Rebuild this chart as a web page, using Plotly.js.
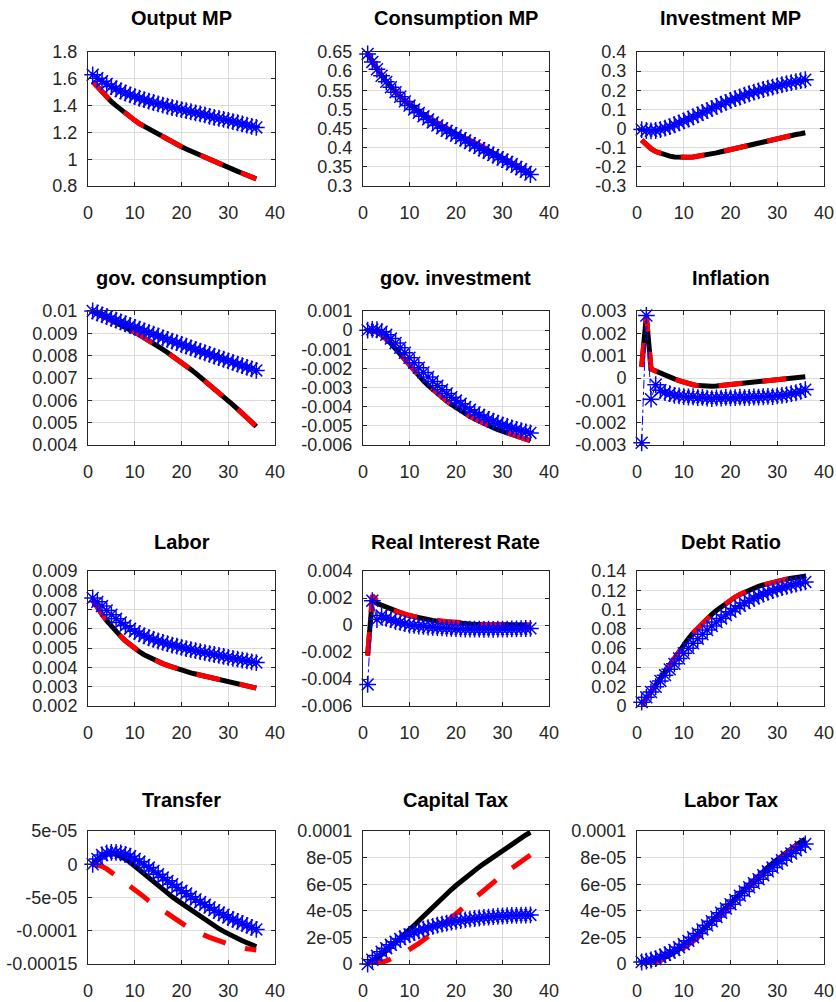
<!DOCTYPE html>
<html><head><meta charset="utf-8">
<script src="https://cdn.plot.ly/plotly-3.0.1.min.js"></script>
<style>html,body{margin:0;padding:0;background:#fff}#chart{width:836px;height:1002px}</style>
</head><body><div id="chart"></div>
<script>
const periods = [1,2,3,4,5,6,7,8,9,10,11,12,13,14,15,16,17,18,19,20,21,22,23,24,25,26,27,28,29,30,31,32,33,34,35,36];
const xTicks = [0,10,20,30,40];
const xLabels = ['0','10','20','30','40'];

const titles = ['Output MP','Consumption MP','Investment MP','gov. consumption','gov. investment','Inflation','Labor','Real Interest Rate','Debt Ratio','Transfer','Capital Tax','Labor Tax'];

// Output MP
const outputBlack = [1.58,1.54,1.50,1.465,1.43,1.40,1.37,1.34,1.315,1.29,1.265,1.245,1.225,1.205,1.185,1.165,1.145,1.127,1.11,1.093,1.076,1.06,1.044,1.028,1.012,0.997,0.982,0.967,0.952,0.937,0.923,0.909,0.895,0.881,0.867,0.853];
const outputRed   = [1.58,1.54,1.50,1.465,1.43,1.40,1.37,1.34,1.315,1.29,1.265,1.245,1.225,1.205,1.185,1.165,1.145,1.127,1.11,1.093,1.076,1.06,1.044,1.028,1.012,0.997,0.982,0.967,0.952,0.937,0.923,0.909,0.895,0.881,0.867,0.853];
const outputBlue  = [1.63,1.605,1.582,1.561,1.542,1.525,1.509,1.494,1.48,1.467,1.455,1.444,1.433,1.423,1.413,1.404,1.395,1.386,1.378,1.37,1.362,1.354,1.346,1.338,1.331,1.32,1.312,1.304,1.297,1.29,1.281,1.272,1.263,1.254,1.245,1.237];
const outputTicks = [0.8,1,1.2,1.4,1.6,1.8];
const outputLabels = ['0.8','1','1.2','1.4','1.6','1.8'];

// Consumption MP
const consBlack = [0.645,0.625,0.606,0.589,0.573,0.559,0.546,0.534,0.523,0.512,0.503,0.494,0.486,0.478,0.470,0.463,0.456,0.449,0.443,0.437,0.430,0.424,0.417,0.411,0.404,0.398,0.392,0.386,0.380,0.373,0.367,0.360,0.353,0.346,0.339,0.331];
const consRed   = [0.645,0.625,0.606,0.589,0.573,0.559,0.546,0.534,0.523,0.513,0.504,0.495,0.487,0.479,0.471,0.464,0.457,0.451,0.445,0.439,0.432,0.426,0.419,0.413,0.406,0.400,0.394,0.388,0.381,0.374,0.368,0.361,0.354,0.347,0.340,0.332];
const consBlue  = [0.645,0.624,0.605,0.588,0.572,0.558,0.545,0.533,0.521,0.510,0.500,0.491,0.482,0.474,0.466,0.458,0.451,0.444,0.438,0.432,0.425,0.419,0.412,0.406,0.399,0.393,0.387,0.381,0.375,0.369,0.363,0.357,0.350,0.344,0.337,0.330];
const consTicks = [0.3,0.35,0.4,0.45,0.5,0.55,0.6,0.65];
const consLabels = ['0.3','0.35','0.4','0.45','0.5','0.55','0.6','0.65'];

// Investment MP
const invBlack = [-0.06,-0.085,-0.105,-0.12,-0.13,-0.138,-0.144,-0.148,-0.15,-0.151,-0.15,-0.148,-0.145,-0.141,-0.137,-0.132,-0.127,-0.121,-0.115,-0.109,-0.103,-0.097,-0.091,-0.085,-0.079,-0.073,-0.067,-0.062,-0.056,-0.051,-0.046,-0.041,-0.036,-0.031,-0.027,-0.022];
const invRed   = [-0.06,-0.085,-0.105,-0.12,-0.13,-0.138,-0.144,-0.148,-0.15,-0.151,-0.15,-0.148,-0.145,-0.141,-0.137,-0.132,-0.127,-0.121,-0.115,-0.109,-0.103,-0.097,-0.091,-0.085,-0.079,-0.073,-0.067,-0.062,-0.056,-0.051,-0.046,-0.041,-0.036,-0.031,-0.027,-0.022];
const invBlue  = [-0.005,-0.01,-0.012,-0.01,-0.005,0.002,0.01,0.02,0.03,0.04,0.05,0.061,0.072,0.083,0.094,0.105,0.116,0.127,0.137,0.147,0.156,0.165,0.174,0.182,0.19,0.197,0.204,0.211,0.217,0.223,0.229,0.235,0.24,0.245,0.25,0.255];
const invTicks = [-0.3,-0.2,-0.1,0,0.1,0.2,0.3,0.4];
const invLabels = ['-0.3','-0.2','-0.1','0','0.1','0.2','0.3','0.4'];

// gov. consumption
const govcBlack = [0.0100,0.00990,0.00980,0.00970,0.00960,0.00950,0.00939,0.00928,0.00917,0.00905,0.00893,0.00881,0.00868,0.00855,0.00842,0.00828,0.00814,0.00800,0.00785,0.00770,0.00754,0.00738,0.00722,0.00705,0.00688,0.00671,0.00653,0.00635,0.00617,0.00599,0.00580,0.00561,0.00542,0.00523,0.00503,0.00483];
const govcRed   = [0.0100,0.00990,0.00980,0.00970,0.00960,0.00950,0.00939,0.00928,0.00917,0.00905,0.00893,0.00881,0.00868,0.00855,0.00842,0.00828,0.00814,0.00800,0.00785,0.00770,0.00754,0.00738,0.00722,0.00705,0.00688,0.00671,0.00653,0.00635,0.00617,0.00599,0.00580,0.00561,0.00542,0.00523,0.00503,0.00483];
const govcBlue  = [0.01000,0.00991,0.00983,0.00975,0.00967,0.00959,0.00951,0.00943,0.00935,0.00927,0.00919,0.00911,0.00903,0.00896,0.00888,0.00880,0.00873,0.00865,0.00858,0.00850,0.00843,0.00835,0.00828,0.00820,0.00813,0.00806,0.00798,0.00791,0.00784,0.00777,0.00770,0.00762,0.00755,0.00748,0.00741,0.00734];
const govcTicks = [0.004,0.005,0.006,0.007,0.008,0.009,0.01];
const govcLabels = ['0.004','0.005','0.006','0.007','0.008','0.009','0.01'];

// gov. investment
const goviBlack = [0.0000,-0.00002,-0.00010,-0.00025,-0.00045,-0.00070,-0.00098,-0.00127,-0.00157,-0.00187,-0.00214,-0.00240,-0.00265,-0.00288,-0.00310,-0.00331,-0.00351,-0.00370,-0.00388,-0.00405,-0.00421,-0.00436,-0.00450,-0.00463,-0.00476,-0.00488,-0.00499,-0.00510,-0.00520,-0.00529,-0.00538,-0.00547,-0.00555,-0.00563,-0.00570,-0.00577];
const goviRed   = [0.0000,-0.00002,-0.00010,-0.00025,-0.00045,-0.00070,-0.00098,-0.00127,-0.00157,-0.00187,-0.00214,-0.00240,-0.00265,-0.00288,-0.00310,-0.00331,-0.00351,-0.00370,-0.00388,-0.00405,-0.00421,-0.00436,-0.00450,-0.00463,-0.00476,-0.00488,-0.00499,-0.00510,-0.00520,-0.00529,-0.00538,-0.00547,-0.00555,-0.00563,-0.00570,-0.00577];
const goviBlue  = [0.00000,0.00004,0.00002,-0.00008,-0.00024,-0.00044,-0.00067,-0.00092,-0.00118,-0.00144,-0.00170,-0.00196,-0.00221,-0.00245,-0.00268,-0.00290,-0.00311,-0.00331,-0.00350,-0.00368,-0.00385,-0.00401,-0.00416,-0.00430,-0.00443,-0.00455,-0.00466,-0.00476,-0.00486,-0.00495,-0.00503,-0.00511,-0.00518,-0.00525,-0.00531,-0.00537];
const goviTicks = [-0.006,-0.005,-0.004,-0.003,-0.002,-0.001,0,0.001];
const goviLabels = ['-0.006','-0.005','-0.004','-0.003','-0.002','-0.001','0','0.001'];

// Inflation
const inflBlack = [0.0005,0.0028,0.0004,0.0003,0.0002,0.00012,0.00004,-0.00004,-0.00012,-0.00019,-0.00025,-0.0003,-0.00034,-0.00036,-0.00037,-0.00037,-0.00036,-0.00034,-0.00032,-0.0003,-0.00028,-0.00026,-0.00024,-0.00022,-0.0002,-0.00018,-0.00016,-0.00014,-0.00012,-0.0001,-0.00008,-0.00006,-0.00003,0.0,0.00003,0.00006];
const inflRed   = [0.0005,0.0028,0.0004,0.0003,0.0002,0.00012,0.00004,-0.00004,-0.00012,-0.00019,-0.00025,-0.0003,-0.00034,-0.00036,-0.00037,-0.00037,-0.00036,-0.00034,-0.00032,-0.0003,-0.00028,-0.00026,-0.00024,-0.00022,-0.0002,-0.00018,-0.00016,-0.00014,-0.00012,-0.0001,-0.00008,-0.00006,-0.00003,0.0,0.00003,0.00006];
const inflBlue  = [-0.0029,0.0028,-0.00095,-0.0003,-0.00055,-0.00065,-0.0007,-0.00078,-0.0008,-0.00083,-0.00085,-0.00084,-0.00088,-0.00087,-0.0009,-0.00092,-0.00089,-0.0009,-0.00087,-0.00089,-0.00088,-0.00086,-0.00088,-0.00087,-0.00085,-0.00086,-0.00084,-0.00082,-0.00083,-0.0008,-0.00078,-0.00075,-0.0007,-0.00066,-0.0006,-0.00052];
const inflTicks = [-0.003,-0.002,-0.001,0,0.001,0.002,0.003];
const inflLabels = ['-0.003','-0.002','-0.001','0','0.001','0.002','0.003'];

// Labor
const labBlack = [0.0075,0.0071,0.00675,0.00643,0.00613,0.00586,0.00561,0.00538,0.00517,0.00498,0.00481,0.00466,0.00453,0.00441,0.0043,0.0042,0.00411,0.00402,0.00394,0.00386,0.00379,0.00372,0.00366,0.0036,0.00354,0.00348,0.00342,0.00337,0.00331,0.00326,0.00321,0.00315,0.0031,0.00304,0.00299,0.00293];
const labRed   = [0.0075,0.0071,0.00675,0.00643,0.00613,0.00586,0.00561,0.00538,0.00517,0.00498,0.00481,0.00466,0.00453,0.00441,0.0043,0.0042,0.00411,0.00402,0.00394,0.00386,0.00379,0.00372,0.00366,0.0036,0.00354,0.00348,0.00342,0.00337,0.00331,0.00326,0.00321,0.00315,0.0031,0.00304,0.00299,0.00293];
const labBlue  = [0.0076,0.0074,0.00718,0.00695,0.00673,0.00652,0.00633,0.00616,0.00601,0.00587,0.00575,0.00564,0.00554,0.00545,0.00537,0.0053,0.00523,0.00516,0.0051,0.00504,0.00498,0.00492,0.00487,0.00482,0.00477,0.00472,0.00467,0.00462,0.00457,0.00452,0.00447,0.00443,0.00438,0.00434,0.00429,0.00425];
const labTicks = [0.002,0.003,0.004,0.005,0.006,0.007,0.008,0.009];
const labLabels = ['0.002','0.003','0.004','0.005','0.006','0.007','0.008','0.009'];

// Real Interest Rate
const rirBlack = [-0.0022,0.0019,0.0016,0.00145,0.0013,0.00115,0.00102,0.0009,0.00079,0.00069,0.0006,0.00052,0.00045,0.00039,0.00033,0.00028,0.00024,0.0002,0.00017,0.00014,0.00012,0.0001,0.00008,0.00006,0.00005,0.00004,0.00003,0.00002,0.00002,0.00001,0.00001,0.00001,0.0,0.0,0.0,0.0];
const rirRed   = [-0.0023,0.0022,0.0018,0.0015,0.00128,0.00112,0.001,0.0009,0.0008,0.00072,0.00064,0.00057,0.0005,0.00044,0.00039,0.00034,0.0003,0.00026,0.00022,0.00019,0.00016,0.00013,0.00011,0.00009,0.00007,0.00005,0.00004,0.00003,0.00002,0.00001,0.0,0.0,-0.00001,-0.00001,-0.00002,-0.00002];
const rirBlue  = [-0.0044,0.0018,0.0004,0.0007,0.0005,0.0004,0.00025,0.0002,0.0001,0.0,-0.00003,-0.00008,-0.0001,-0.00015,-0.00017,-0.0002,-0.00022,-0.00024,-0.00025,-0.00027,-0.00028,-0.0003,-0.0003,-0.00031,-0.00031,-0.00032,-0.00031,-0.00032,-0.00031,-0.0003,-0.0003,-0.00029,-0.00028,-0.00027,-0.00026,-0.00025];
const rirTicks = [-0.006,-0.004,-0.002,0,0.002,0.004];
const rirLabels = ['-0.006','-0.004','-0.002','0','0.002','0.004'];

// Debt Ratio
const debtBlack = [0.001,0.008,0.015,0.0225,0.03,0.037,0.044,0.051,0.0575,0.064,0.07,0.0757,0.081,0.086,0.0907,0.095,0.099,0.1027,0.1063,0.110,0.113,0.1157,0.118,0.1202,0.1222,0.124,0.1256,0.127,0.1283,0.1295,0.1306,0.1316,0.1325,0.1333,0.134,0.1346];
const debtRed   = [0.001,0.008,0.015,0.0225,0.03,0.037,0.044,0.051,0.0575,0.064,0.07,0.0757,0.081,0.086,0.0907,0.095,0.099,0.1027,0.1063,0.110,0.113,0.1157,0.118,0.1202,0.1222,0.124,0.1256,0.127,0.1283,0.1295,0.1306,0.1316,0.1325,0.1333,0.134,0.1346];
const debtBlue  = [0.004,0.009,0.0145,0.02,0.026,0.032,0.038,0.0437,0.0493,0.0547,0.06,0.065,0.0698,0.0744,0.0788,0.083,0.087,0.0908,0.0944,0.0978,0.101,0.104,0.1068,0.1094,0.1118,0.114,0.116,0.1179,0.1196,0.1212,0.1227,0.124,0.1253,0.1265,0.1276,0.1287];
const debtTicks = [0,0.02,0.04,0.06,0.08,0.1,0.12,0.14];
const debtLabels = ['0','0.02','0.04','0.06','0.08','0.1','0.12','0.14'];

// Transfer
const trBlack = [0.0,7e-06,1.2e-05,1.5e-05,1.6e-05,1.5e-05,1.2e-05,8e-06,3e-06,-3e-06,-9e-06,-1.5e-05,-2.1e-05,-2.7e-05,-3.3e-05,-3.9e-05,-4.4e-05,-4.9e-05,-5.4e-05,-5.9e-05,-6.4e-05,-6.9e-05,-7.4e-05,-7.9e-05,-8.4e-05,-8.8e-05,-9.3e-05,-9.7e-05,-0.000101,-0.000105,-0.000108,-0.000111,-0.000115,-0.000118,-0.000121,-0.000124];
const trRed   = [0.0,-1e-06,-3e-06,-7e-06,-1.2e-05,-1.7e-05,-2.2e-05,-2.7e-05,-3.2e-05,-3.7e-05,-4.3e-05,-4.9e-05,-5.5e-05,-6.0e-05,-6.5e-05,-7.0e-05,-7.4e-05,-7.9e-05,-8.4e-05,-8.8e-05,-9.3e-05,-9.7e-05,-0.000101,-0.000104,-0.000107,-0.00011,-0.000113,-0.000116,-0.000118,-0.00012,-0.000122,-0.000124,-0.000126,-0.000127,-0.000128,-0.000129];
const trBlue  = [0.0,8e-06,1.4e-05,1.7e-05,1.8e-05,1.8e-05,1.7e-05,1.5e-05,1.2e-05,8e-06,4e-06,-1e-06,-5e-06,-1.0e-05,-1.5e-05,-2.0e-05,-2.5e-05,-3.0e-05,-3.5e-05,-4.0e-05,-4.4e-05,-4.9e-05,-5.3e-05,-5.7e-05,-6.1e-05,-6.5e-05,-6.9e-05,-7.3e-05,-7.6e-05,-8.0e-05,-8.3e-05,-8.6e-05,-8.9e-05,-9.2e-05,-9.5e-05,-9.8e-05];
const trTicks = [-0.00015,-0.0001,-5e-05,0,5e-05];
const trLabels = ['-0.00015','-0.0001','-5e-05','0','5e-05'];

// Capital Tax
const ctBlack = [0.0,2.2e-06,4.6e-06,7.2e-06,1.0e-05,1.3e-05,1.6e-05,1.9e-05,2.2e-05,2.55e-05,2.9e-05,3.25e-05,3.6e-05,3.9e-05,4.25e-05,4.6e-05,4.95e-05,5.3e-05,5.6e-05,5.9e-05,6.2e-05,6.5e-05,6.8e-05,7.05e-05,7.3e-05,7.55e-05,7.8e-05,8.05e-05,8.3e-05,8.55e-05,8.8e-05,9.05e-05,9.3e-05,9.5e-05,9.7e-05,9.9e-05];
const ctRed   = [0.0,2e-07,6e-07,1.3e-06,2.3e-06,3.6e-06,5.1e-06,6.8e-06,8.7e-06,1.07e-05,1.3e-05,1.55e-05,1.8e-05,2.05e-05,2.3e-05,2.6e-05,2.9e-05,3.2e-05,3.5e-05,3.8e-05,4.05e-05,4.3e-05,4.6e-05,4.9e-05,5.2e-05,5.5e-05,5.8e-05,6.1e-05,6.4e-05,6.7e-05,6.95e-05,7.2e-05,7.45e-05,7.7e-05,7.95e-05,8.2e-05];
const ctBlue  = [0.0,3.2e-06,6.3e-06,9.2e-06,1.19e-05,1.44e-05,1.67e-05,1.88e-05,2.06e-05,2.22e-05,2.37e-05,2.5e-05,2.62e-05,2.73e-05,2.83e-05,2.92e-05,3.0e-05,3.08e-05,3.15e-05,3.21e-05,3.27e-05,3.32e-05,3.37e-05,3.42e-05,3.46e-05,3.5e-05,3.53e-05,3.56e-05,3.59e-05,3.61e-05,3.63e-05,3.65e-05,3.66e-05,3.67e-05,3.68e-05,3.69e-05];
const ctTicks = [0,2e-05,4e-05,6e-05,8e-05,0.0001];
const ctLabels = ['0','2e-05','4e-05','6e-05','8e-05','0.0001'];

// Labor Tax
const ltBlack = [0.0,3e-07,1e-06,2e-06,3.3e-06,4.9e-06,6.7e-06,8.7e-06,1.09e-05,1.33e-05,1.6e-05,1.89e-05,2.2e-05,2.52e-05,2.85e-05,3.19e-05,3.54e-05,3.89e-05,4.24e-05,4.59e-05,4.94e-05,5.29e-05,5.64e-05,5.98e-05,6.32e-05,6.65e-05,6.97e-05,7.28e-05,7.58e-05,7.87e-05,8.15e-05,8.42e-05,8.68e-05,8.93e-05,9.17e-05,9.4e-05];
const ltRed   = [0.0,2e-07,7e-07,1.5e-06,2.6e-06,4.0e-06,5.6e-06,7.4e-06,9.4e-06,1.17e-05,1.42e-05,1.7e-05,2.0e-05,2.32e-05,2.65e-05,2.99e-05,3.34e-05,3.7e-05,4.06e-05,4.42e-05,4.78e-05,5.14e-05,5.5e-05,5.85e-05,6.2e-05,6.54e-05,6.87e-05,7.19e-05,7.5e-05,7.8e-05,8.09e-05,8.37e-05,8.64e-05,8.9e-05,9.15e-05,9.39e-05];
const ltBlue  = [1.5e-06,2.2e-06,3e-06,4.1e-06,5.4e-06,6.9e-06,8.6e-06,1.05e-05,1.26e-05,1.49e-05,1.74e-05,2.01e-05,2.3e-05,2.6e-05,2.91e-05,3.22e-05,3.54e-05,3.86e-05,4.18e-05,4.5e-05,4.82e-05,5.14e-05,5.46e-05,5.77e-05,6.08e-05,6.38e-05,6.68e-05,6.97e-05,7.25e-05,7.53e-05,7.8e-05,8.06e-05,8.31e-05,8.56e-05,8.8e-05,9.03e-05];
const ltTicks = [0,2e-05,4e-05,6e-05,8e-05,0.0001];
const ltLabels = ['0','2e-05','4e-05','6e-05','8e-05','0.0001'];

const panels = [
  {black:outputBlack, red:outputRed, blue:outputBlue, ticks:outputTicks, labels:outputLabels},
  {black:consBlack, red:consRed, blue:consBlue, ticks:consTicks, labels:consLabels},
  {black:invBlack, red:invRed, blue:invBlue, ticks:invTicks, labels:invLabels},
  {black:govcBlack, red:govcRed, blue:govcBlue, ticks:govcTicks, labels:govcLabels},
  {black:goviBlack, red:goviRed, blue:goviBlue, ticks:goviTicks, labels:goviLabels},
  {black:inflBlack, red:inflRed, blue:inflBlue, ticks:inflTicks, labels:inflLabels},
  {black:labBlack, red:labRed, blue:labBlue, ticks:labTicks, labels:labLabels},
  {black:rirBlack, red:rirRed, blue:rirBlue, ticks:rirTicks, labels:rirLabels},
  {black:debtBlack, red:debtRed, blue:debtBlue, ticks:debtTicks, labels:debtLabels},
  {black:trBlack, red:trRed, blue:trBlue, ticks:trTicks, labels:trLabels},
  {black:ctBlack, red:ctRed, blue:ctBlue, ticks:ctTicks, labels:ctLabels},
  {black:ltBlack, red:ltRed, blue:ltBlue, ticks:ltTicks, labels:ltLabels}
];

const W = 836, H = 1002;
const colLeft = [88, 363, 637], colRight = [275, 549, 824];
const rowTop = [52, 311, 571, 831], rowBottom = [186, 445, 706, 964];
const titleY = [18, 278, 542, 800];
const FONT = 'Liberation Sans, Arial, Helvetica, sans-serif';
const AX = '#262626';

const traces = [];
const layout = {
  width: W, height: H, margin: {l:0, r:0, t:0, b:0},
  showlegend: false, paper_bgcolor: '#ffffff', plot_bgcolor: '#ffffff',
  font: {family: FONT, size: 18, color: AX},
  annotations: []
};

panels.forEach((p, i) => {
  const r = Math.floor(i / 3), c = i % 3, n = i + 1;
  const sfx = n === 1 ? '' : String(n);
  const xa = 'x' + sfx, ya = 'y' + sfx;
  traces.push({x: periods, y: p.black, xaxis: xa, yaxis: ya, type: 'scatter', mode: 'lines',
    line: {color: '#000000', width: 5}, hoverinfo: 'skip'});
  traces.push({x: periods, y: p.red, xaxis: xa, yaxis: ya, type: 'scatter', mode: 'lines',
    line: {color: '#ff0000', width: 5, dash: '24px,20px'}, hoverinfo: 'skip'});
  traces.push({x: periods, y: p.blue, xaxis: xa, yaxis: ya, type: 'scatter', mode: 'lines+markers',
    line: {color: '#0000ff', width: 1, dash: 'dashdot'},
    marker: {symbol: 'asterisk-open', size: 14, color: '#0000ff', line: {color: '#0000ff', width: 1.5}},
    cliponaxis: false, hoverinfo: 'skip'});
  const common = {
    showline: true, mirror: 'ticks', linecolor: AX, linewidth: 1,
    showgrid: true, gridcolor: '#dcdcdc', gridwidth: 1, zeroline: false,
    ticks: 'inside', ticklen: 4, tickwidth: 1, tickcolor: AX,
    tickfont: {family: FONT, size: 18, color: AX}, fixedrange: true
  };
  layout['xaxis' + sfx] = Object.assign({}, common, {
    domain: [colLeft[c] / W, colRight[c] / W], anchor: ya, range: [0, 40],
    tickmode: 'array', tickvals: xTicks, ticktext: xLabels, ticklabelstandoff: 10
  });
  layout['yaxis' + sfx] = Object.assign({}, common, {
    domain: [1 - rowBottom[r] / H, 1 - rowTop[r] / H], anchor: xa,
    range: [p.ticks[0], p.ticks[p.ticks.length - 1]],
    tickmode: 'array', tickvals: p.ticks, ticktext: p.labels, ticklabelstandoff: 6
  });
  layout.annotations.push({
    text: '<b>' + titles[i] + '</b>', xref: 'paper', yref: 'paper',
    x: (colLeft[c] + colRight[c]) / 2 / W, y: 1 - titleY[r] / H,
    xanchor: 'center', yanchor: 'middle', showarrow: false,
    font: {family: FONT, size: 20, color: '#000000'}
  });
});

Plotly.newPlot('chart', traces, layout, {staticPlot: true});
</script></body></html>
